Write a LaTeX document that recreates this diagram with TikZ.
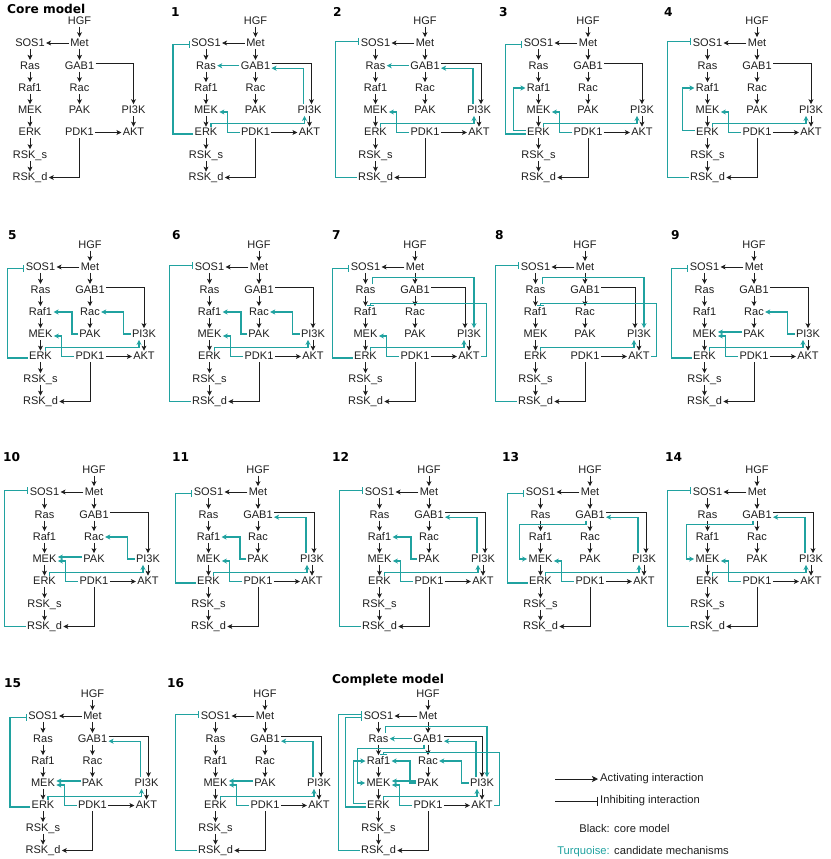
\documentclass[tikz,border=0pt]{standalone}
\usepackage{fontspec}
\setmainfont{Liberation Sans}
\newfontfamily\panelfont{DejaVu Sans}
\usetikzlibrary{arrows.meta}
\definecolor{coreInk}{RGB}{30,30,30}
\definecolor{turq}{RGB}{32,162,160}

% black core network, placed round Met at (0,0); #1 = shift of the GAB1 -> PI3K end
\newcommand{\corenet}[1]{%
  \node[mol] (HGF)  at (0,-22.3)     {HGF};
  \node[mol] (Met)  at (0,0)         {Met};
  \node[mol] (SOS1) at (-49.5,0)     {SOS1};
  \node[mol] (Ras)  at (-49.5,22.7)  {Ras};
  \node[mol] (Raf1) at (-49.5,45)    {Raf1};
  \node[mol] (MEK)  at (-49.5,67)    {MEK};
  \node[mol] (ERK)  at (-49.5,89.5)  {ERK};
  \node[mol] (RSKs) at (-49.5,112)   {RSK\_s};
  \node[mol] (RSKd) at (-49.5,134.5) {RSK\_d};
  \node[mol] (GAB1) at (0,22.7)      {GAB1};
  \node[mol] (Rac)  at (0,45)        {Rac};
  \node[mol] (PAK)  at (0,67)        {PAK};
  \node[mol] (PDK1) at (0,89.5)      {PDK1};
  \node[mol] (PI3K) at (54,67)       {PI3K};
  \node[mol] (AKT)  at (54,89.5)     {AKT};
  \foreach \a/\b in {HGF/Met,Met/SOS1,Met/GAB1,SOS1/Ras,Ras/Raf1,Raf1/MEK,MEK/ERK,ERK/RSKs,RSKs/RSKd,GAB1/Rac,Rac/PAK,PI3K/AKT,PDK1/AKT}
    \draw[act] (\a) -- (\b);
  \draw[act] ([yshift=2pt]GAB1.east) -| ([xshift=#1]PI3K.north);
  \draw[act] (PDK1.south) |- (RSKd.east);
}

% candidate mechanisms (turquoise)
\newcommand{\mechES}{\draw[inh,tq] ([yshift=-1.5pt]ERK.west) -| ([xshift=-17pt,yshift=-1.5pt]SOS1.west) -- ([yshift=-1.5pt]SOS1.west);}
\newcommand{\mechRS}{\draw[inh,tq] (RSKd.west) -| ([xshift=-24pt,yshift=1.5pt]SOS1.west) -- ([yshift=1.5pt]SOS1.west);}
\newcommand{\mechGR}{\draw[act,tq] (GAB1) -- (Ras);}
\newcommand{\mechPG}{\draw[act,tq] ([xshift=-6pt]PI3K.north) |- ([yshift=-2.5pt]GAB1.east);}
\newcommand{\mechER}{\draw[act,tq] ([yshift=2pt]ERK.west) -| ([xshift=-12pt]Raf1.west) -- (Raf1.west);}
\newcommand{\mechPR}{\draw[act,tq] (PAK.west) -- ++(-6,0) |- (Raf1.east);}
\newcommand{\mechPRac}{\draw[act,tq] (PI3K.west) -- ++(-7,0) |- (Rac.east);}
\newcommand{\mechRP}{\draw[act,tq] ([xshift=7pt]Ras.north) -- ++(0,-6) -| ([xshift=5pt]PI3K.north);}
\newcommand{\mechAR}{\draw[inh,tq] (AKT.east) -- ++(5,0) |- ([xshift=5pt,yshift=3pt]Raf1.north) -- ([xshift=5pt]Raf1.north);}
\newcommand{\mechPM}{\draw[act,tq] ([yshift=2pt]PAK.west) -- ([yshift=2pt]MEK.east);}
\newcommand{\mechGM}{\draw[act,tq] ([xshift=-4pt]GAB1.south) -- ++(0,4) -| ([xshift=-8pt]MEK.west) -- (MEK.west);}
\newcommand{\mechDM}{\draw[act,tq] (PDK1.west) -| ([xshift=8pt,yshift=-2pt]MEK.east) -- ([yshift=-2pt]MEK.east);}
\newcommand{\mechEP}{\draw[act,tq] ([xshift=5pt]ERK.north) -- ++(0,-3) -| ([xshift=-5pt]PI3K.south);}

\begin{document}
\begin{tikzpicture}[x=1pt,y=-1pt,
  mol/.style={font=\fontsize{11}{12}\selectfont,inner sep=1.2pt,text height=7.9pt,text depth=1pt,text=coreInk},
  act/.style={draw=coreInk,line width=0.75pt,-{Stealth[length=5pt,width=5pt,inset=1.3pt]}},
  inh/.style={draw=coreInk,line width=0.75pt,-{Bar[width=7pt]}},
  tq/.style={draw=turq,line width=1.15pt},
  ttl/.style={anchor=west,inner sep=0pt,font=\panelfont\bfseries\fontsize{12.2}{14}\selectfont},
  lgd/.style={font=\fontsize{11.2}{13}\selectfont,inner sep=2pt,text=coreInk}]
\path[use as bounding box] (0,0) rectangle (830,859);

% Core model
\node[ttl] (tcore) at (7,8.5) {Core model};
\begin{scope}[shift={(79.5,43)},name prefix=core-]
\corenet{0pt}
\end{scope}

% Panel 1
\node[ttl] (t1) at (171,12) {1};
\begin{scope}[shift={(255.5,43)},name prefix=p1-]
\corenet{2pt}
\mechES \mechGR \mechPG \mechDM \mechEP
\end{scope}

% Panel 2
\node[ttl] (t2) at (333,12) {2};
\begin{scope}[shift={(425,43)},name prefix=p2-]
\corenet{2pt}
\mechRS \mechGR \mechPG \mechDM \mechEP
\end{scope}

% Panel 3
\node[ttl] (t3) at (499,12) {3};
\begin{scope}[shift={(588,43)},name prefix=p3-]
\corenet{0pt}
\mechES \mechER \mechDM \mechEP
\end{scope}

% Panel 4
\node[ttl] (t4) at (664,12) {4};
\begin{scope}[shift={(757,43)},name prefix=p4-]
\corenet{0pt}
\mechRS \mechER \mechDM \mechEP
\end{scope}

% Panel 5
\node[ttl] (t5) at (8,235) {5};
\begin{scope}[shift={(90,267)},name prefix=p5-]
\corenet{0pt}
\mechES \mechPR \mechPRac \mechDM \mechEP
\end{scope}

% Panel 6
\node[ttl] (t6) at (172,235) {6};
\begin{scope}[shift={(259,267)},name prefix=p6-]
\corenet{0pt}
\mechRS \mechPR \mechPRac \mechDM \mechEP
\end{scope}

% Panel 7
\node[ttl] (t7) at (332,235) {7};
\begin{scope}[shift={(415,267)},name prefix=p7-]
\corenet{-4pt}
\mechES \mechRP \mechAR \mechDM \mechEP
\end{scope}

% Panel 8 - no PDK1 -> MEK here
\node[ttl] (t8) at (495,235) {8};
\begin{scope}[shift={(585,267)},name prefix=p8-]
\corenet{-4pt}
\mechRS \mechRP \mechAR \mechEP
\end{scope}

% Panel 9
\node[ttl] (t9) at (671,235) {9};
\begin{scope}[shift={(754,267)},name prefix=p9-]
\corenet{0pt}
\mechES \mechPRac \mechPM \mechDM \mechEP
\end{scope}

% Panel 10
\node[ttl] (t10) at (3,457) {10};
\begin{scope}[shift={(94,492)},name prefix=p10-]
\corenet{0pt}
\mechRS \mechPRac \mechPM \mechDM \mechEP
\end{scope}

% Panel 11
\node[ttl] (t11) at (172,457) {11};
\begin{scope}[shift={(258,492)},name prefix=p11-]
\corenet{2pt}
\mechES \mechPG \mechPR \mechDM \mechEP
\end{scope}

% Panel 12
\node[ttl] (t12) at (332,457) {12};
\begin{scope}[shift={(429,492)},name prefix=p12-]
\corenet{2pt}
\mechRS \mechPG \mechPR \mechDM \mechEP
\end{scope}

% Panel 13
\node[ttl] (t13) at (502,457) {13};
\begin{scope}[shift={(590,492)},name prefix=p13-]
\corenet{2pt}
\mechES \mechPG \mechGM \mechDM \mechEP
\end{scope}

% Panel 14
\node[ttl] (t14) at (665,457) {14};
\begin{scope}[shift={(757,492)},name prefix=p14-]
\corenet{2pt}
\mechRS \mechPG \mechGM \mechDM \mechEP
\end{scope}

% Panel 15
\node[ttl] (t15) at (4,683) {15};
\begin{scope}[shift={(92.5,716)},name prefix=p15-]
\corenet{2pt}
\mechES \mechPG \mechPM \mechDM \mechEP
\end{scope}

% Panel 16
\node[ttl] (t16) at (167,683) {16};
\begin{scope}[shift={(265,716)},name prefix=p16-]
\corenet{2pt}
\mechRS \mechPG \mechPM \mechDM \mechEP
\end{scope}

% Complete model - all mechanisms
\node[ttl] (tall) at (332,680) {Complete model};
\begin{scope}[shift={(428,716)},name prefix=all-]
\corenet{0pt}
\mechES \mechRS \mechGR \mechPG \mechER \mechPR \mechPRac
\mechRP \mechAR \mechPM \mechGM \mechDM \mechEP
\end{scope}

% Legend
\coordinate (actfrom) at (555,779);
\node[lgd,anchor=west] (acttxt) at (598,779) {Activating interaction};
\draw[act,-{Stealth[length=6pt,width=6pt,inset=1.5pt]}] (actfrom) -- (acttxt.west);
\coordinate (inhfrom) at (555,801);
\node[lgd,anchor=west] (inhtxt) at (598,801) {Inhibiting interaction};
\draw[inh,-{Bar[width=9pt]}] (inhfrom) -- (inhtxt.west);
\node[lgd,anchor=base east] (blklbl) at (612,832) {Black:};
\node[lgd,anchor=base west] (blkval) at (612,832) {core model};
\node[lgd,anchor=base east,text=turq] (tqlbl) at (612,854) {Turquoise:};
\node[lgd,anchor=base west] (tqval) at (612,854) {candidate mechanisms};
\end{tikzpicture}
\end{document}
